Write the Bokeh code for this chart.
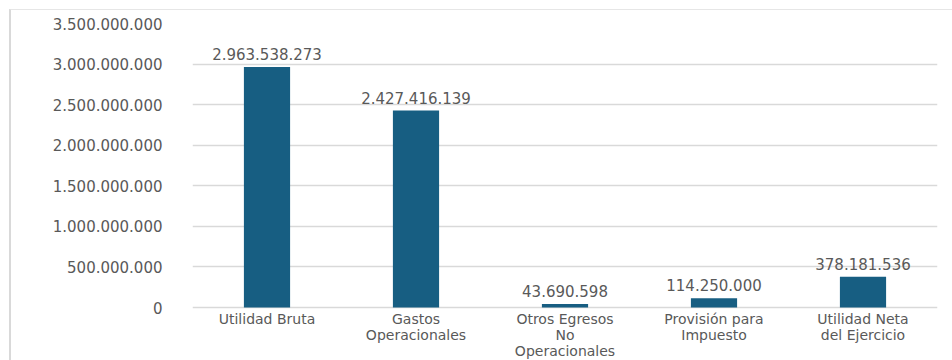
from bokeh.plotting import figure
from bokeh.models import ColumnDataSource, CustomJSTickFormatter, FixedTicker, Range1d
from bokeh.core.properties import value
from bokeh.embed import file_html
from bokeh.resources import INLINE

categories = ["Utilidad Bruta", "Gastos Operacionales", "Otros Egresos No Operacionales",
              "Provisión para Impuesto", "Utilidad Neta del Ejercicio"]
display_labels = ["Utilidad Bruta", "Gastos\nOperacionales", "Otros Egresos\nNo\nOperacionales",
                  "Provisión para\nImpuesto", "Utilidad Neta\ndel Ejercicio"]
values = [2963538273, 2427416139, 43690598, 114250000, 378181536]
value_labels = ["2.963.538.273", "2.427.416.139", "43.690.598", "114.250.000", "378.181.536"]
y_ticks = [0, 500000000, 1000000000, 1500000000, 2000000000, 2500000000, 3000000000, 3500000000]

BAR = "#175E82"
TXT = "#595959"
GRID = "#d9d9d9"
FONT = "DejaVu Sans"

# plot area: value axis spans 284 px for 0..3.5e9, with 54 px of label room below zero
Y_MAX = 3500000000
Y_MIN = -Y_MAX * 54 / 284

src = ColumnDataSource(dict(cat=categories, val=values, lab=value_labels,
                            disp=display_labels, zero=[0] * len(values)))

p = figure(x_range=categories, y_range=Range1d(Y_MIN, Y_MAX),
           width=943, height=351, margin=(9, 0, 0, 9),
           output_backend="svg", toolbar_location=None,
           min_border_left=181, min_border_right=17, min_border_top=13, min_border_bottom=0,
           styles={"border-top": "1px solid #e6e6e6", "border-left": "2px solid #d9d9d9"})

p.vbar(x="cat", top="val", width=0.31, source=src, fill_color=BAR, line_color=None)
p.text(x="cat", y="val", text="lab", source=src, y_offset=-7,
       text_align="center", text_baseline="bottom",
       text_font=value(FONT), text_font_size="15px", text_color=TXT)
p.text(x="cat", y="zero", text="disp", source=src, y_offset=3,
       text_align="center", text_baseline="top", text_line_height=1.0,
       text_font=value(FONT), text_font_size="14px", text_color=TXT)

p.outline_line_color = None
p.xgrid.grid_line_color = None
p.ygrid.grid_line_color = GRID
p.ygrid.grid_line_width = 1.5

p.yaxis.ticker = FixedTicker(ticks=y_ticks)
p.yaxis.formatter = CustomJSTickFormatter(code="""
return tick.toFixed(0).replace(/\\B(?=(\\d{3})+(?!\\d))/g, ".");
""")
p.yaxis.axis_line_color = None
p.yaxis.major_tick_line_color = None
p.yaxis.minor_tick_line_color = None
p.yaxis.major_label_standoff = 24
p.yaxis.major_label_text_font = FONT
p.yaxis.major_label_text_font_size = "15px"
p.yaxis.major_label_text_color = TXT

p.xaxis.visible = False

open("out.html", "w").write(file_html(p, INLINE))
